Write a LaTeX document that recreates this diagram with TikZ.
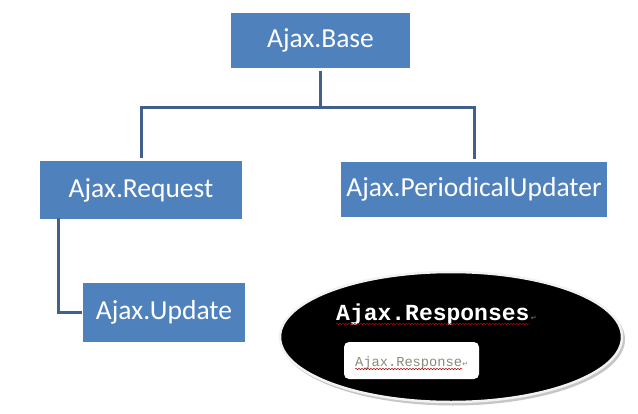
\documentclass[tikz,border=0pt]{standalone}
\usepackage{fontspec}
\setmainfont{Carlito}
\newfontfamily\monofont{Liberation Mono}
\newfontfamily\symfont{DejaVu Sans}
\usetikzlibrary{calc,decorations.pathmorphing}
\definecolor{boxblue}{HTML}{4F81BD}
\definecolor{linecol}{HTML}{41618C}
\definecolor{resgray}{HTML}{8A8A7A}
\tikzset{
  bluebox/.style={rectangle, fill=boxblue, text=white, inner sep=0pt,
    font=\fontsize{27.5}{32}\selectfont},
  conn/.style={draw=linecol, line width=3pt},
  squiggle/.style={draw=red!70!black, line width=0.5pt, decorate,
    decoration={snake, amplitude=0.7pt, segment length=3pt}},
  retmark/.style={text=gray, inner sep=0pt, font=\symfont\fontsize{7}{8}\selectfont}
}
\begin{document}
\begin{tikzpicture}[x=1pt,y=-1pt]
\useasboundingbox (0,0) rectangle (638,413);
% boxes
\node[bluebox, minimum width=179pt, minimum height=55pt] (base) at (320.5,40.5) {Ajax.Base};
\node[bluebox, minimum width=202pt, minimum height=58pt] (req) at (141,190) {Ajax.Request};
\node[bluebox, minimum width=266pt, minimum height=55pt] (pu) at (474,189.5) {Ajax.PeriodicalUpdater};
\node[bluebox, minimum width=162pt, minimum height=59pt] (upd) at (164,312.5) {Ajax.Update};
% connectors
\coordinate (j) at (320.5,107);
\draw[conn] ([yshift=-3pt]base.south) -- (j);
\draw[conn] (j) -| ([yshift=3pt]req.north);
\draw[conn] (j) -| ([yshift=3pt]pu.north);
\coordinate (rq) at ($(req.south west)+(19,-1)$);
\draw[conn] (rq) |- ([xshift=-1pt]upd.west);
% ellipse
\fill[gray!45] (453,339.5) ellipse [x radius=172pt, y radius=66pt];
\filldraw[fill=black, draw=gray!10, line width=2.5pt] (451,337) ellipse [x radius=171pt, y radius=65pt];
\node[text=white, inner sep=0pt, anchor=base west, font=\monofont\bfseries\fontsize{23}{26}\selectfont] (resps) at (336,320) {Ajax.Responses};
\node[retmark, anchor=base west] (ret1) at ([xshift=1pt]resps.base east) {↵};
\draw[squiggle] ([yshift=-4pt]resps.base west) -- ([yshift=-4pt]resps.base east);
\node[rectangle, rounded corners=5pt, fill=white, minimum width=135pt, minimum height=37pt, inner sep=0pt] (inner) at (411.5,360.5) {};
\node[text=resgray, inner sep=0pt, anchor=base west, font=\monofont\fontsize{13.7}{16}\selectfont] (resp) at (355,366) {Ajax.Response};
\node[retmark, anchor=base west] (ret2) at (resp.base east) {↵};
\draw[squiggle] ([yshift=-3pt]resp.base west) -- ([yshift=-3pt]resp.base east);
\end{tikzpicture}
\end{document}
